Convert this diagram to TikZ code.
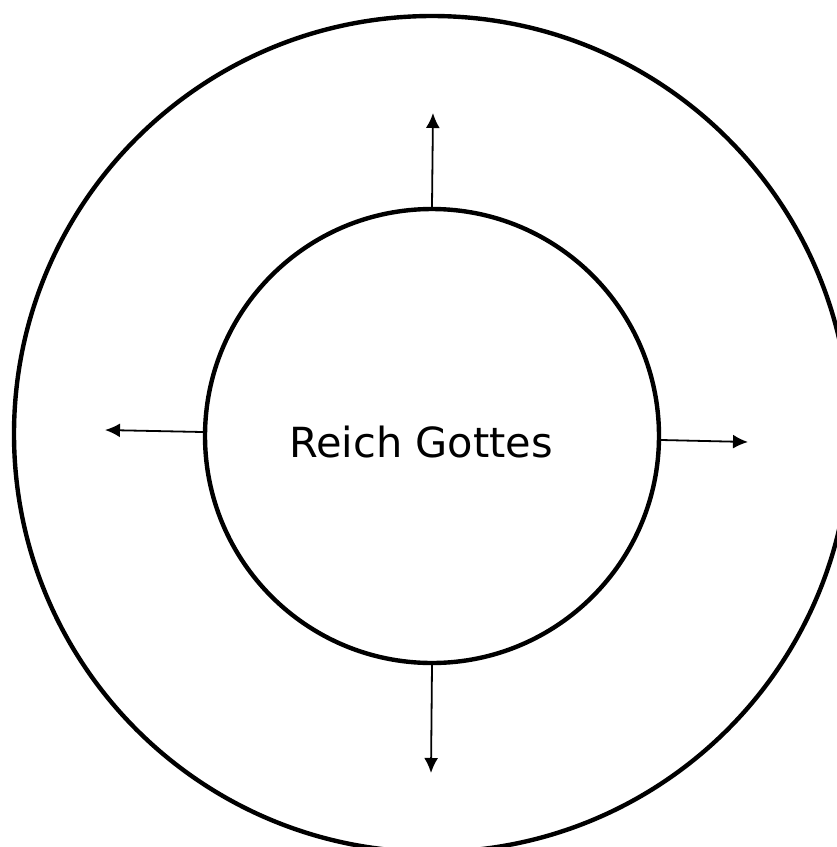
\documentclass[tikz,border=0pt]{standalone}
\usepackage{fontspec}
\setmainfont{DejaVu Sans}
\usetikzlibrary{arrows.meta}

\begin{document}
\begin{tikzpicture}[x=1pt,y=-1pt,>={Latex[length=15pt,width=14pt]},
  ring/.style={draw,circle,line width=4.4pt,inner sep=0pt},
  outarrow/.style={->,line width=1.8pt}]
  \useasboundingbox (0,0) rectangle (837,847);
  \clip (0,0) rectangle (837,847);

  \node[ring,minimum size=836pt] (world) at (432,434) {};
  \node[ring,minimum size=454pt] (reich) at (432,436) {};
  \node[font=\fontsize{41.5}{48}\selectfont,anchor=base] (name) at (421,457) {Reich Gottes};

  % arrows from the inner circle outwards
  \coordinate (up)    at (433,113);
  \coordinate (down)  at (431,773);
  \coordinate (left)  at (105,430);
  \coordinate (right) at (748,442);
  \draw[outarrow] (reich.north) -- (up);
  \draw[outarrow] (reich.south) -- (down);
  \draw[outarrow] (reich.179) -- (left);
  \draw[outarrow] (reich.-1.5) -- (right);
\end{tikzpicture}
\end{document}
